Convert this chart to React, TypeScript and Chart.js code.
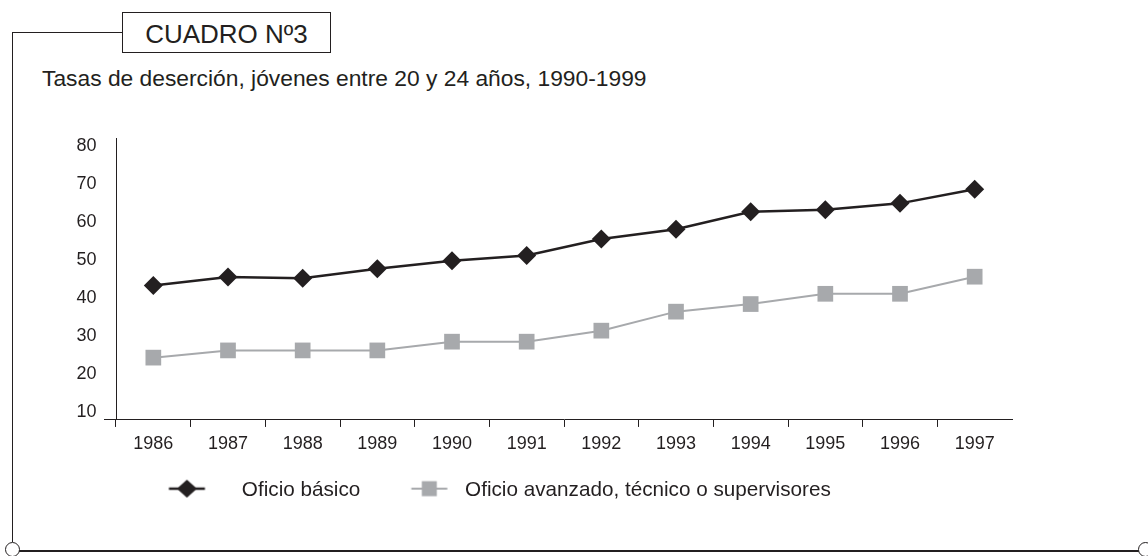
import React, { useEffect, useRef } from 'react';
import { Chart, registerables } from 'chart.js';

Chart.register(...registerables);

const categories = ['1986', '1987', '1988', '1989', '1990', '1991', '1992', '1993', '1994', '1995', '1996', '1997'];
const oficioBasico = [43.2, 45.4, 45.1, 47.6, 49.7, 51.1, 55.4, 58.0, 62.6, 63.1, 64.8, 68.5];
const oficioAvanzado = [24.2, 26.1, 26.1, 26.1, 28.4, 28.4, 31.3, 36.3, 38.3, 41.0, 41.0, 45.5];
const yTickValues = [10, 20, 30, 40, 50, 60, 70, 80];
const seriesNames = ['Oficio básico', 'Oficio avanzado, técnico o supervisores'];

const Y_MIN = 7.8;
const Y_MAX = 82;
const INK = '#231f20';
const GREY = '#a7a9ac';
const FONT = "'Liberation Sans', Arial, Helvetica, sans-serif";

const CANVAS_LEFT = -16;
const CANVAS_W = 1164;
const CANVAS_H = 411;

function makeIcon(kind: 'diamond' | 'square', dx: number): HTMLCanvasElement {
  const c = document.createElement('canvas');
  c.width = 100;
  c.height = 24;
  const g = c.getContext('2d')!;
  const cx = 50 + dx;
  const cy = 10;
  g.lineWidth = kind === 'diamond' ? 2.5 : 2;
  g.strokeStyle = kind === 'diamond' ? INK : GREY;
  g.beginPath();
  g.moveTo(cx - 18, cy);
  g.lineTo(cx + 18, cy);
  g.stroke();
  g.fillStyle = kind === 'diamond' ? INK : GREY;
  g.beginPath();
  if (kind === 'diamond') {
    g.moveTo(cx, cy - 9);
    g.lineTo(cx + 10, cy);
    g.lineTo(cx, cy + 9);
    g.lineTo(cx - 10, cy);
    g.closePath();
  } else {
    g.rect(cx - 7.5, cy - 7.5, 15, 15);
  }
  g.fill();
  return c;
}

function ChartBox() {
  const ref = useRef<HTMLCanvasElement | null>(null);
  useEffect(() => {
    if (!ref.current) return;
    const icons = [makeIcon('diamond', -11.5), makeIcon('square', 7.7)];
    const chart = new Chart(ref.current, {
      type: 'line',
      data: {
        labels: categories,
        datasets: [
          {
            label: seriesNames[0],
            data: oficioBasico,
            borderColor: INK,
            backgroundColor: INK,
            borderWidth: 2.5,
            pointStyle: 'rectRot',
            pointRadius: 9.5,
            pointBorderWidth: 0,
            pointBackgroundColor: INK,
            tension: 0,
            clip: false as any,
          },
          {
            label: seriesNames[1],
            data: oficioAvanzado,
            borderColor: GREY,
            backgroundColor: GREY,
            borderWidth: 2,
            pointStyle: 'rect',
            pointRadius: 11.1,
            pointBorderWidth: 0,
            pointBackgroundColor: GREY,
            tension: 0,
            clip: false as any,
          },
        ],
      },
      options: {
        animation: false,
        responsive: false,
        events: [],
        layout: { padding: { left: 0, right: 136, top: 38, bottom: 0 } },
        font: { family: FONT },
        scales: {
          x: {
            type: 'category',
            offset: true,
            grid: {
              offset: true,
              drawOnChartArea: false,
              drawTicks: true,
              tickLength: 7,
              lineWidth: 1,
              color: (c: any) => (c.type === 'tick' ? INK : 'rgba(0,0,0,0)'),
            },
            border: { display: true, color: INK, width: 1 },
            ticks: {
              color: INK,
              font: { family: FONT, size: 18 },
              padding: 6,
              maxRotation: 0,
              autoSkip: false,
            },
            afterFit: (s: any) => {
              s.height = 32.15;
            },
          },
          y: {
            type: 'linear',
            min: Y_MIN,
            max: Y_MAX,
            afterBuildTicks: (s: any) => {
              s.ticks = [Y_MIN, ...yTickValues].map((v) => ({ value: v }));
            },
            grid: {
              drawOnChartArea: false,
              drawTicks: true,
              tickLength: 12,
              lineWidth: 1,
              color: (c: any) => (c.index === 0 ? INK : 'rgba(0,0,0,0)'),
            },
            border: { display: true, color: INK, width: 1 },
            ticks: {
              color: INK,
              font: { family: FONT, size: 18 },
              padding: 7.5,
              callback: (v: any) => (yTickValues.includes(Number(v)) ? String(v) : ''),
            },
            afterFit: (s: any) => {
              s.width = 132;
            },
          },
        },
        plugins: {
          tooltip: { enabled: false },
          title: { display: false },
          legend: {
            display: true,
            position: 'bottom',
            align: 'center',
            labels: {
              usePointStyle: true,
              pointStyleWidth: 66.25,
              padding: 28.2,
              color: INK,
              font: { family: FONT, size: 20.7 },
              generateLabels: (ch: any) => {
                const items = (Chart.defaults.plugins.legend.labels as any).generateLabels(ch);
                return items.map((it: any, i: number) => ({ ...it, pointStyle: icons[i], lineWidth: 0 }));
              },
            },
          },
        },
      },
    });
    return () => chart.destroy();
  }, []);
  return (
    <canvas
      ref={ref}
      width={CANVAS_W}
      height={CANVAS_H}
      style={{ display: 'block', width: CANVAS_W, height: CANVAS_H }}
    />
  );
}

export default function App() {
  const line = '#231f20';
  return (
    <div
      style={{
        position: 'absolute',
        left: 0,
        top: 0,
        width: 1148,
        height: 556,
        background: '#fff',
        overflow: 'hidden',
        fontFamily: FONT,
        color: INK,
      }}
    >
      {/* frame: top connector and left rule */}
      <div style={{ position: 'absolute', left: 12, top: 32, width: 111, height: 1, background: line }} />
      <div style={{ position: 'absolute', left: 12, top: 32, width: 1, height: 510, background: line }} />
      {/* chart */}
      <div style={{ position: 'absolute', left: CANVAS_LEFT, top: 100, width: CANVAS_W, height: CANVAS_H }}>
        <ChartBox />
      </div>
      {/* title box */}
      <div
        style={{
          position: 'absolute',
          left: 122,
          top: 12,
          width: 209,
          height: 41,
          border: `1px solid ${line}`,
          boxSizing: 'border-box',
          display: 'flex',
          alignItems: 'center',
          justifyContent: 'center',
          fontSize: 26,
          lineHeight: '26px',
          paddingTop: 3,
          background: '#fff',
        }}
      >
        CUADRO Nº3
      </div>
      {/* subtitle */}
      <div style={{ position: 'absolute', left: 42, top: 67, fontSize: 22.8, lineHeight: '22.8px', whiteSpace: 'nowrap' }}>
        Tasas de deserción, jóvenes entre 20 y 24 años, 1990-1999
      </div>
      {/* bottom rule with end circles */}
      <div style={{ position: 'absolute', left: 19, top: 550, width: 1120, height: 1.5, background: line }} />
      <div
        style={{
          position: 'absolute',
          left: 5,
          top: 541.5,
          width: 15,
          height: 15,
          borderRadius: '50%',
          border: `1.3px solid ${line}`,
          boxSizing: 'border-box',
          background: '#fff',
        }}
      />
      <div
        style={{
          position: 'absolute',
          left: 1138,
          top: 541.5,
          width: 15,
          height: 15,
          borderRadius: '50%',
          border: `1.3px solid ${line}`,
          boxSizing: 'border-box',
          background: '#fff',
        }}
      />
    </div>
  );
}
